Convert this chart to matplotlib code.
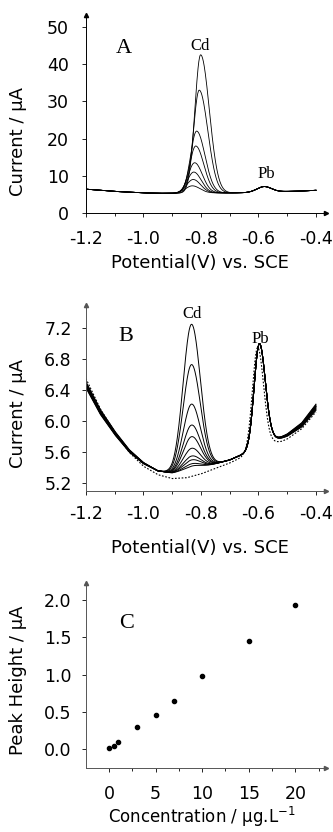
import numpy as np
import matplotlib
matplotlib.use("Agg")
import matplotlib.pyplot as plt
from matplotlib.ticker import MultipleLocator

plt.rcParams['font.family'] = 'DejaVu Sans'
plt.rcParams['mathtext.default'] = 'regular'

# ---------------- data ----------------
# panel A : baseline knots (V, uA)
pot_knots_a = [-1.20, -1.10, -1.00, -0.95, -0.90, -0.85, -0.80, -0.75, -0.70, -0.65, -0.60, -0.55, -0.50, -0.45, -0.40]
base_a = [6.4, 5.8, 5.4, 5.3, 5.3, 5.35, 5.4, 5.4, 5.4, 5.45, 5.6, 5.7, 5.8, 5.9, 6.1]
cd_pos_a = [-0.801, -0.806, -0.815, -0.818, -0.822, -0.825, -0.827, -0.830]
cd_peak_a = [42.5, 33.0, 22.0, 18.0, 13.5, 11.0, 9.0, 7.3]
cd_sig_left_a = [0.020, 0.020, 0.021, 0.021, 0.022, 0.022, 0.023, 0.024]
cd_sig_right_a = [0.030, 0.030, 0.029, 0.028, 0.027, 0.026, 0.026, 0.026]
pb_pos_a, pb_peak_a = -0.580, 7.1

# panel B : baseline knots (V, uA)
pot_knots_b = [-1.20, -1.15, -1.10, -1.05, -1.00, -0.95, -0.90, -0.85, -0.80, -0.75, -0.70, -0.65, -0.60, -0.55, -0.52, -0.50, -0.45, -0.40]
base_b = [6.47, 6.12, 5.85, 5.62, 5.46, 5.36, 5.33, 5.35, 5.40, 5.45, 5.50, 5.58, 5.66, 5.76, 5.79, 5.82, 5.95, 6.18]
base_blank_b = [6.55, 6.16, 5.86, 5.60, 5.42, 5.31, 5.26, 5.27, 5.32, 5.39, 5.46, 5.55, 5.62, 5.72, 5.74, 5.77, 5.90, 6.12]
cd_pos_b = -0.833
cd_peak_b = [7.25, 6.73, 6.22, 5.95, 5.80, 5.65, 5.55, 5.50, 5.45, 5.42]
tail_shift_b = [0.04, 0.03, 0.01, 0.0, -0.01, 0.02, -0.03, -0.02, 0.01, -0.04]
pb_pos_b, pb_peak_b = -0.597, 7.0
pb_pos_blank_b, pb_peak_blank_b = -0.603, 6.95

# panel C : calibration
conc = [0, 0.5, 1, 3, 5, 7, 10, 15, 20]
peak_height = [0.01, 0.04, 0.10, 0.29, 0.46, 0.64, 0.98, 1.45, 1.93]


def peak(x, pos, amp, sl, sr):
    s = np.where(x < pos, sl, sr)
    return amp * np.exp(-0.5 * ((x - pos) / s) ** 2)


def style(ax, xlim, ylim, xpad, ypad, axcol='black'):
    ax.set_xlim(*xlim)
    ax.set_ylim(*ylim)
    for s in ('top', 'right'):
        ax.spines[s].set_visible(False)
    for s in ('left', 'bottom'):
        ax.spines[s].set_color(axcol)
        ax.spines[s].set_linewidth(0.7)
    ax.plot(1, 0, '>', color=axcol, ms=3, transform=ax.transAxes, clip_on=False)
    ax.plot(0, 1, '^', color=axcol, ms=3, transform=ax.transAxes, clip_on=False)
    ax.tick_params(which='both', direction='out', length=3, width=0.6, labelsize=12.5)
    ax.tick_params(which='minor', length=2)
    ax.tick_params(axis='x', pad=xpad)
    ax.tick_params(axis='y', pad=ypad)


fig = plt.figure(figsize=(3.33, 8.32), dpi=100)
serif = 'Liberation Serif'

# ---------------- panel A ----------------
ax = fig.add_axes([0.258, 0.744, 0.721, 0.238])
x = np.linspace(-1.2, -0.4, 600)
ba = np.interp(x, pot_knots_a, base_a)
pb = peak(x, pb_pos_a, pb_peak_a - np.interp(pb_pos_a, pot_knots_a, base_a), 0.025, 0.025)
for p, h, sl, sr in zip(cd_pos_a, cd_peak_a, cd_sig_left_a, cd_sig_right_a):
    amp = h - np.interp(p, pot_knots_a, base_a)
    ax.plot(x, ba + pb + peak(x, p, amp, sl, sr), color='black', lw=0.6)
style(ax, (-1.2, -0.365), (0, 53.2), xpad=9, ypad=9.4)
ax.set_xticks([-1.2, -1.0, -0.8, -0.6, -0.4])
ax.set_xticklabels(['-1.2', '-1.0', '-0.8', '-0.6', '-0.4'])
ax.xaxis.set_minor_locator(MultipleLocator(0.1))
ax.set_yticks([0, 10, 20, 30, 40, 50])
ax.set_xlabel('Potential(V) vs. SCE', fontsize=13)
ax.set_ylabel('Current / µA', fontsize=13)
ax.yaxis.set_label_coords(-0.245, 0.36)
ax.xaxis.set_label_coords(0.473, -0.205)
ax.text(-1.068, 43, 'A', family=serif, fontsize=16, ha='center')
ax.text(-0.803, 43.8, 'Cd', family=serif, fontsize=12, ha='center')
ax.text(-0.574, 9.4, 'Pb', family=serif, fontsize=12, ha='center')

# ---------------- panel B ----------------
ax = fig.add_axes([0.258, 0.4099, 0.721, 0.2236])
bb = np.interp(x, pot_knots_b, base_b)
pb = peak(x, pb_pos_b, pb_peak_b - np.interp(pb_pos_b, pot_knots_b, base_b), 0.018, 0.021)
cd_base = np.interp(cd_pos_b, pot_knots_b, base_b)
for h, t in zip(cd_peak_b, tail_shift_b):
    tail = t * np.clip((x + 0.56) / 0.16, 0, 1) - t * np.clip((-0.95 - x) / 0.25, 0, 1)
    ax.plot(x, bb + pb + tail + peak(x, cd_pos_b, h - cd_base, 0.029, 0.031),
            color='black', lw=0.7)
bk = np.interp(x, pot_knots_b, base_blank_b)
pbk = peak(x, pb_pos_blank_b, pb_peak_blank_b - np.interp(pb_pos_blank_b, pot_knots_b, base_blank_b), 0.018, 0.021)
ax.plot(x, bk + pbk, color='black', lw=0.8, ls=(0, (1.5, 1.5)))
style(ax, (-1.2, -0.365), (5.1, 7.5), xpad=7.2, ypad=7.2, axcol='#555555')
ax.set_xticks([-1.2, -1.0, -0.8, -0.6, -0.4])
ax.set_xticklabels(['-1.2', '-1.0', '-0.8', '-0.6', '-0.4'])
ax.xaxis.set_minor_locator(MultipleLocator(0.1))
ax.set_yticks([5.2, 5.6, 6.0, 6.4, 6.8, 7.2])
ax.set_yticklabels(['5.2', '5.6', '6.0', '6.4', '6.8', '7.2'])
ax.set_xlabel('Potential(V) vs. SCE', fontsize=13)
ax.set_ylabel('Current / µA', fontsize=13)
ax.yaxis.set_label_coords(-0.245, 0.414)
ax.xaxis.set_label_coords(0.473, -0.26)
ax.text(-1.061, 7.04, 'B', family=serif, fontsize=16, ha='center')
ax.text(-0.830, 7.325, 'Cd', family=serif, fontsize=12, ha='center')
ax.text(-0.595, 7.003, 'Pb', family=serif, fontsize=12, ha='center')

# ---------------- panel C ----------------
ax = fig.add_axes([0.258, 0.0769, 0.721, 0.2224])
ax.plot(conc, peak_height, 'o', color='black', ms=3)
style(ax, (-2.47, 23.3), (-0.255, 2.23), xpad=9, ypad=7.2, axcol='#555555')
ax.set_xticks([0, 5, 10, 15, 20])
ax.xaxis.set_minor_locator(MultipleLocator(2.5))
ax.set_yticks([0.0, 0.5, 1.0, 1.5, 2.0])
ax.set_yticklabels(['0.0', '0.5', '1.0', '1.5', '2.0'])
ax.set_xlabel(r'Concentration / µg.L$^{-1}$', fontsize=12)
ax.set_ylabel('Peak Height / µA', fontsize=13)
ax.yaxis.set_label_coords(-0.245, 0.476)
ax.xaxis.set_label_coords(0.485, -0.2)
ax.text(1.94, 1.62, 'C', family=serif, fontsize=16, ha='center')

fig.savefig('out.png', dpi=100)
